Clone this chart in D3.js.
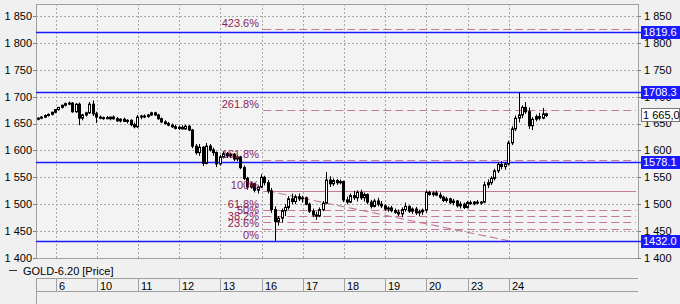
<!DOCTYPE html>
<html>
<head>
<meta charset="utf-8">
<script src="https://cdn.jsdelivr.net/npm/d3@7"></script>
<style>
  body { margin:0; background:#f0f0f0; }
  svg { display:block; font-family:"Liberation Sans", Arial, sans-serif; }
</style>
</head>
<body>
<div id="chart"></div>
<script>
// sessions shown on the time axis (first one is cut by the left edge)
var sessions = ["5","6","10","11","12","13","16","17","18","19","20","23","24"];

// bars per session, [open, high, low, close]
var bars = [
  [[1658,1662,1656,1660],[1660,1664,1658,1662],[1662,1667,1660,1665],[1665,1669,1663,1667],[1667,1672,1665,1671]],
  [[1671,1677,1669,1676],[1676,1681,1674,1680],[1680,1685,1678,1684],[1684,1689,1682,1687],[1687,1691,1684,1688],[1688,1690,1670,1672],
   [1672,1688,1670,1686],[1686,1689,1647,1660],[1660,1668,1656,1666],[1666,1672,1663,1670],[1670,1690,1668,1686],[1686,1693,1664,1668]],
  [[1668,1672,1651,1662],[1662,1665,1658,1660],[1660,1663,1657,1661],[1661,1664,1658,1659],[1659,1663,1656,1662],[1662,1665,1657,1659],
   [1659,1662,1653,1655],[1655,1660,1652,1658],[1658,1661,1653,1654],[1654,1658,1650,1656],[1656,1658,1645,1648],[1648,1652,1641,1644]],
  [[1644,1666,1642,1662],[1662,1666,1658,1664],[1664,1667,1660,1663],[1663,1668,1661,1666],[1666,1672,1664,1670],[1670,1672,1664,1666],
   [1666,1668,1657,1659],[1659,1661,1651,1653],[1653,1656,1648,1650],[1650,1653,1645,1647],[1647,1650,1642,1644],[1644,1648,1639,1641]],
  [[1641,1646,1638,1643],[1643,1647,1639,1640],[1640,1648,1638,1645],[1645,1647,1636,1638],[1638,1640,1604,1608],[1608,1612,1592,1596],
   [1596,1612,1590,1606],[1606,1608,1571,1576],[1576,1614,1574,1608],[1608,1612,1598,1601],[1601,1605,1590,1596],[1596,1598,1569,1575]],
  [[1575,1592,1572,1588],[1588,1598,1585,1594],[1594,1597,1586,1590],[1590,1596,1586,1593],[1593,1595,1580,1584],[1584,1592,1580,1588],
   [1588,1590,1565,1568],[1568,1572,1545,1548],[1548,1551,1527,1532],[1532,1541,1529,1538],[1538,1540,1522,1526],[1526,1535,1520,1532]],
  [[1532,1556,1530,1550],[1550,1553,1535,1540],[1540,1545,1520,1525],[1525,1530,1484,1490],[1490,1496,1432,1468],[1468,1478,1460,1474],
   [1474,1492,1466,1488],[1488,1500,1478,1494],[1494,1515,1490,1510],[1510,1520,1500,1505],[1505,1518,1500,1514],[1514,1520,1506,1510]],
  [[1510,1516,1503,1512],[1512,1514,1498,1500],[1500,1503,1484,1487],[1487,1492,1476,1480],[1480,1486,1471,1478],[1478,1494,1476,1490],
   [1490,1506,1487,1502],[1502,1560,1500,1545],[1545,1552,1532,1538],[1538,1548,1534,1544],[1544,1547,1536,1540],[1540,1546,1537,1542]],
  [[1542,1544,1504,1508],[1508,1514,1500,1504],[1504,1520,1502,1516],[1516,1525,1508,1512],[1512,1526,1505,1522],[1522,1527,1508,1512],
   [1512,1522,1505,1518],[1518,1520,1500,1504],[1504,1508,1492,1496],[1496,1510,1494,1506],[1506,1512,1496,1500],[1500,1506,1493,1497]],
  [[1497,1500,1488,1491],[1491,1496,1486,1493],[1493,1497,1485,1488],[1488,1492,1482,1485],[1485,1490,1478,1482],[1482,1494,1476,1490],
   [1490,1503,1486,1496],[1496,1498,1484,1487],[1487,1494,1482,1491],[1491,1495,1480,1484],[1484,1490,1478,1486],[1486,1492,1480,1489]],
  [[1489,1526,1484,1522],[1522,1525,1516,1518],[1518,1524,1514,1521],[1521,1525,1515,1517],[1517,1522,1510,1513],[1513,1516,1504,1507],
   [1507,1514,1503,1510],[1510,1512,1500,1503],[1503,1510,1498,1506],[1506,1508,1494,1497],[1497,1505,1492,1500],[1500,1503,1491,1494]],
  [[1494,1506,1492,1503],[1503,1507,1499,1501],[1501,1506,1498,1504],[1504,1508,1500,1502],[1502,1506,1499,1504],[1504,1542,1502,1536],
   [1536,1546,1530,1540],[1540,1552,1536,1548],[1548,1566,1544,1562],[1562,1578,1558,1574],[1574,1580,1565,1570],[1570,1578,1564,1575]],
  [[1575,1618,1572,1614],[1614,1645,1610,1640],[1640,1665,1636,1660],[1660,1708.3,1652,1666],[1666,1684,1660,1680],[1680,1690,1668,1672],
   [1672,1680,1640,1646],[1646,1662,1638,1658],[1658,1667,1654,1663],[1663,1670,1656,1660],[1660,1679,1658,1668],[1668,1670,1662,1665]]
];

var yTicks = [1400,1450,1500,1550,1600,1650,1700,1750,1800,1850];
var levels = [1819.6, 1708.3, 1578.1, 1432.0];
var lastPrice = 1665.0;

var fibLow = 1432, fibHigh = 1525;
var fibRatios = [0, 0.236, 0.382, 0.5, 0.618, 1, 1.618, 2.618, 4.236];
var fibLabels = ["0%","23.6%","38.2%","50%","61.8%","100%","161.8%","261.8%","423.6%"];
var fibFrom = 65.5;          // bar index where the tool starts
var trendFrom = [66.5, 1525], trendTo = [137, 1432];

var W = 680, H = 304;
var plot = {left:36, right:638, top:4, bottom:258};

var svg = d3.select("#chart").append("svg")
    .attr("width", W).attr("height", H);

svg.append("rect").attr("width", W).attr("height", H).attr("fill", "#f0f0f0");

// flatten bars, remember where every session starts
var data = [], starts = [];
bars.forEach(function(day, k) {
  starts.push({label: sessions[k], i: data.length});
  day.forEach(function(b) { data.push({i: data.length, o:b[0], h:b[1], l:b[2], c:b[3]}); });
});

var x = d3.scaleLinear().domain([5, 137]).range([55.5, 508.7]);
var y = d3.scaleLinear().domain([1400, 1850]).range([258, 16]);

var locale = d3.formatLocale({decimal:".", thousands:" ", grouping:[3], currency:["",""]});
var fmt = locale.format(",");
var fmtLast = d3.formatLocale({decimal:",", thousands:" ", grouping:[3], currency:["",""]}).format(",.1f");

// plot frame
svg.append("rect")
    .attr("x", plot.left + 0.5).attr("y", plot.top + 0.5)
    .attr("width", plot.right - plot.left).attr("height", plot.bottom - plot.top)
    .attr("fill", "#f3f3f3").attr("stroke", "#a0a0a0");

var grid = svg.append("g").attr("stroke", "#a8a8a8").attr("stroke-dasharray", "2,2");
grid.selectAll("line.h").data(yTicks.filter(function(d){ return d > 1400; }))
  .enter().append("line")
    .attr("x1", plot.left).attr("x2", plot.right)
    .attr("y1", function(d){ return Math.round(y(d)) + 0.5; })
    .attr("y2", function(d){ return Math.round(y(d)) + 0.5; });
grid.selectAll("line.v").data(starts.slice(1))
  .enter().append("line")
    .attr("y1", plot.top).attr("y2", plot.bottom)
    .attr("x1", function(d){ return Math.round(x(d.i)) + 0.5; })
    .attr("x2", function(d){ return Math.round(x(d.i)) + 0.5; });

// y axis labels, left and right
var ticks = svg.append("g").attr("stroke", "#808080");
yTicks.forEach(function(v) {
  var yy = Math.round(y(v)) + 0.5;
  ticks.append("line").attr("x1", plot.left - 3).attr("x2", plot.left).attr("y1", yy).attr("y2", yy);
  ticks.append("line").attr("x1", plot.right).attr("x2", plot.right + 3).attr("y1", yy).attr("y2", yy);
});
svg.append("g").selectAll("text").data(yTicks).enter().append("text")
    .attr("x", 32).attr("y", function(d){ return y(d); }).attr("dy", "0.35em")
    .attr("text-anchor", "end").attr("font-size", 11).attr("fill", "#000")
    .text(fmt);
svg.append("g").selectAll("text").data(yTicks).enter().append("text")
    .attr("x", 644).attr("y", function(d){ return y(d); }).attr("dy", "0.35em")
    .attr("font-size", 11).attr("fill", "#000")
    .text(fmt);

// fibonacci lines
var fibColor = "#c27a9c", fibText = "#8c1f55";
var fib = svg.append("g");
fibRatios.forEach(function(r) {
  var yy = Math.round(y(fibLow + r * (fibHigh - fibLow))) + 0.5;
  fib.append("line")
      .attr("x1", x(fibFrom)).attr("x2", plot.right - 2)
      .attr("y1", yy).attr("y2", yy)
      .attr("stroke", fibColor).attr("stroke-width", 1.2)
      .attr("stroke-dasharray", r === 1 ? null : "8,4");
});
fib.append("line")
    .attr("x1", x(trendFrom[0])).attr("y1", y(trendFrom[1]))
    .attr("x2", x(trendTo[0])).attr("y2", y(trendTo[1]))
    .attr("stroke", fibColor).attr("stroke-width", 1.1).attr("stroke-dasharray", "8,4");

// horizontal levels
svg.append("g").selectAll("line").data(levels).enter().append("line")
    .attr("x1", plot.left).attr("x2", 641)
    .attr("y1", function(d){ return Math.round(y(d)) + 0.5; })
    .attr("y2", function(d){ return Math.round(y(d)) + 0.5; })
    .attr("stroke", "#1a1aff").attr("stroke-width", 1.6);

// candles
var candle = svg.append("g").selectAll("g").data(data).enter().append("g");
candle.append("line")
    .attr("x1", function(d){ return Math.floor(x(d.i)) + 0.5; })
    .attr("x2", function(d){ return Math.floor(x(d.i)) + 0.5; })
    .attr("y1", function(d){ return y(d.h); })
    .attr("y2", function(d){ return y(d.l); })
    .attr("stroke", "#000");
candle.append("rect")
    .attr("x", function(d){ return Math.floor(x(d.i)) - 0.5; })
    .attr("width", 2)
    .attr("y", function(d){ return y(Math.max(d.o, d.c)); })
    .attr("height", function(d){ return Math.max(1, Math.abs(y(d.o) - y(d.c))); })
    .attr("fill", function(d){ return d.c >= d.o ? "#fff" : "#000"; })
    .attr("stroke", "#000").attr("stroke-width", 1);

// fibonacci labels on top
fibRatios.forEach(function(r, k) {
  var yy = Math.round(y(fibLow + r * (fibHigh - fibLow))) + 0.5;
  svg.append("text")
      .attr("x", 259).attr("y", yy - 2.5)
      .attr("text-anchor", "end").attr("font-size", 11).attr("fill", fibText)
      .text(fibLabels[k]);
});

// value boxes on the right
levels.forEach(function(v) {
  var yy = Math.round(y(v));
  svg.append("rect").attr("x", 641).attr("y", yy - 6).attr("width", 39).attr("height", 13)
      .attr("fill", "#1a1aff");
  svg.append("text").attr("x", 643).attr("y", yy).attr("dy", "0.36em")
      .attr("font-size", 11).attr("fill", "#fff").text(v.toFixed(1));
});
var ly = Math.round(y(lastPrice));
svg.append("rect").attr("x", 641.5).attr("y", ly - 6.5).attr("width", 38).attr("height", 13)
    .attr("fill", "#fff").attr("stroke", "#777");
svg.append("text").attr("x", 643).attr("y", ly).attr("dy", "0.36em")
    .attr("font-size", 11).attr("fill", "#000").text(fmtLast(lastPrice));

// legend
svg.append("line").attr("x1", 9).attr("x2", 17).attr("y1", 270.5).attr("y2", 270.5).attr("stroke", "#333");
svg.append("text").attr("x", 23).attr("y", 274.5).attr("font-size", 11).text("GOLD-6.20 [Price]");

// time axis
var axis = svg.append("g").attr("stroke", "#a0a0a0");
axis.append("line").attr("x1", plot.left).attr("x2", plot.right).attr("y1", 278.5).attr("y2", 278.5);
axis.append("line").attr("x1", plot.left).attr("x2", plot.right).attr("y1", 291.5).attr("y2", 291.5);
axis.append("line").attr("x1", plot.left + 0.5).attr("x2", plot.left + 0.5).attr("y1", 278).attr("y2", H);
axis.selectAll("line.t").data(starts.slice(1)).enter().append("line")
    .attr("x1", function(d){ return Math.round(x(d.i)) + 0.5; })
    .attr("x2", function(d){ return Math.round(x(d.i)) + 0.5; })
    .attr("y1", 278).attr("y2", 291);
svg.append("g").selectAll("text").data(starts.slice(1)).enter().append("text")
    .attr("x", function(d){ return Math.round(x(d.i)) + 3; })
    .attr("y", 289.5).attr("font-size", 11).attr("fill", "#000")
    .text(function(d){ return d.label; });
</script>
</body>
</html>
